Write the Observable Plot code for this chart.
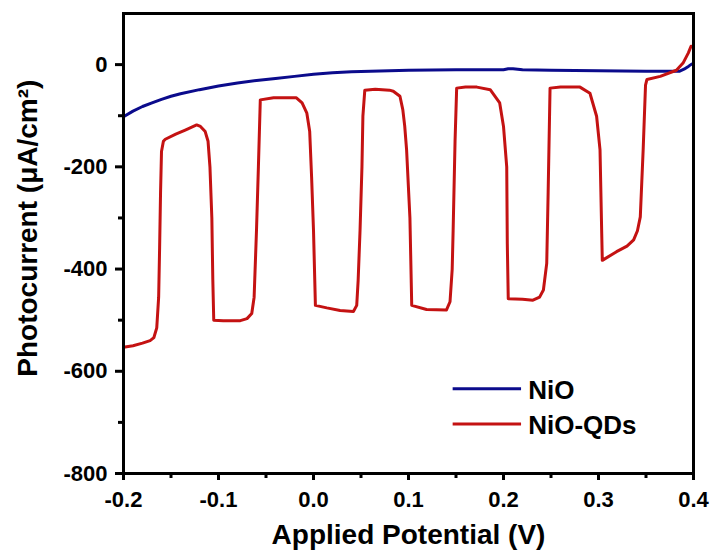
<!DOCTYPE html>
<html>
<head>
<meta charset="utf-8">
<script src="https://cdn.jsdelivr.net/npm/d3@7"></script>
<script src="https://cdn.jsdelivr.net/npm/@observablehq/plot@0.6"></script>
<style>
  html, body { margin: 0; padding: 0; background: white; }
</style>
</head>
<body>
<div id="chart"></div>
<script>
// ---- Data ----
const seriesNames = ["NiO", "NiO-QDs"];

// NiO (dark) – applied potential (V) and photocurrent (µA/cm²)
const nioV = [-0.200, -0.190, -0.180, -0.170, -0.160, -0.150, -0.140, -0.120, -0.100, -0.080, -0.060, -0.040, -0.020, 0.000, 0.020, 0.040, 0.060, 0.080, 0.100, 0.150, 0.200, 0.205, 0.210, 0.220, 0.250, 0.300, 0.350, 0.385, 0.390, 0.395, 0.398];
const nioJ = [-102, -91, -82, -75, -68, -62, -57, -49, -42, -36, -31, -27, -23, -19, -16, -14, -13, -12, -11, -10, -10, -8, -8, -10, -11, -12, -13, -13, -9, -3, 1];

// NiO-QDs (chopped light)
const qdsV = [-0.200, -0.190, -0.180, -0.172, -0.168, -0.165, -0.163, -0.162, -0.161, -0.160, -0.158, -0.156, -0.145, -0.135, -0.123, -0.119, -0.114, -0.111, -0.109, -0.107, -0.106, -0.105, -0.095, -0.077, -0.070, -0.065, -0.0625, -0.060, -0.058, -0.056, -0.042, -0.018, -0.012, -0.007, -0.004, -0.002, 0.000, 0.002, 0.014, 0.028, 0.042, 0.0455, 0.047, 0.049, 0.051, 0.052, 0.054, 0.065, 0.080, 0.084, 0.091, 0.094, 0.096, 0.098, 0.1015, 0.1034, 0.119, 0.140, 0.1437, 0.146, 0.147, 0.149, 0.1507, 0.160, 0.172, 0.186, 0.196, 0.200, 0.2034, 0.204, 0.205, 0.220, 0.231, 0.238, 0.242, 0.2455, 0.247, 0.249, 0.260, 0.2805, 0.291, 0.298, 0.3016, 0.3034, 0.304, 0.319, 0.330, 0.337, 0.341, 0.344, 0.347, 0.3495, 0.351, 0.365, 0.382, 0.389, 0.3946, 0.3974];
const qdsJ = [-553, -550, -545, -540, -534, -515, -455, -360, -250, -170, -150, -146, -136, -128, -118, -121, -131, -150, -200, -300, -420, -500, -501, -501, -497, -487, -455, -324, -200, -69, -65, -65, -75, -95, -131, -220, -324, -471, -476, -481, -483, -471, -422, -324, -200, -101, -50, -48, -50, -52, -62, -88, -120, -167, -300, -471, -479, -480, -464, -400, -323, -150, -46, -44, -44, -49, -75, -121, -200, -350, -458, -459, -461, -455, -441, -389, -250, -46, -44, -44, -56, -101, -167, -331, -383, -366, -355, -343, -325, -298, -167, -40, -29, -23, -11, 3, 23, 36];

const xTicks = [-0.2, -0.1, 0.0, 0.1, 0.2, 0.3, 0.4];
const xMinorTicks = [-0.15, -0.05, 0.05, 0.15, 0.25, 0.35];
const yTicks = [0, -200, -400, -600, -800];
const yMinorTicks = [-100, -300, -500, -700];
const xTitle = "Applied Potential (V)";
const yTitle = "Photocurrent (μA/cm²)";

// ---- Styling / layout ----
const colors = {"NiO": "#0b0b8c", "NiO-QDs": "#c41212"};
const font = "'Liberation Sans', Arial, Helvetica, sans-serif";

const nioData = nioV.map((v, i) => ({v, j: nioJ[i], s: "NiO"}));
const qdsData = qdsV.map((v, i) => ({v, j: qdsJ[i], s: "NiO-QDs"}));

// legend placement (in data units of the axes)
const legendX1 = 0.147, legendX2 = 0.219, legendTextX = 0.226;
const legendY = [-634, -703];
const legendData = seriesNames.map((s, i) => ({s, y: legendY[i]}));

const chart = Plot.plot({
  width: 714,
  height: 550,
  marginLeft: 123,
  marginRight: 21,
  marginTop: 13,
  marginBottom: 77,
  style: {fontFamily: font, fontSize: "22px", fontWeight: "bold", color: "black", background: "white"},
  x: {domain: [-0.2, 0.4]},
  y: {domain: [-800, 100]},
  marks: [
    Plot.line(nioData, {x: "v", y: "j", stroke: colors["NiO"], strokeWidth: 3}),
    Plot.line(qdsData, {x: "v", y: "j", stroke: colors["NiO-QDs"], strokeWidth: 3}),
    Plot.frame({stroke: "black", strokeWidth: 3}),
    Plot.axisX({ticks: xTicks, tickSize: 7, tickPadding: 11, strokeWidth: 3, label: null, tickFormat: d => d.toFixed(1), fontSize: 22}),
    Plot.axisX({ticks: xMinorTicks, tickSize: 5, strokeWidth: 3, label: null, text: null}),
    Plot.axisY({ticks: yTicks, tickSize: 8, tickPadding: 8, strokeWidth: 3, label: null, tickFormat: d => String(d), fontSize: 22}),
    Plot.axisY({ticks: yMinorTicks, tickSize: 5, strokeWidth: 3, label: null, text: null}),
    Plot.text([xTitle], {frameAnchor: "bottom", dy: 70, lineAnchor: "bottom", fontSize: 28, fontWeight: "bold", fill: "black"}),
    Plot.text([{t: yTitle, y: -320}], {text: "t", y: "y", frameAnchor: "left", dx: -95, rotate: -90, textAnchor: "middle", lineAnchor: "middle", fontSize: 28, fontWeight: "bold", fill: "black"}),
    Plot.ruleY(legendData, {y: "y", x1: legendX1, x2: legendX2, stroke: d => colors[d.s], strokeWidth: 3}),
    Plot.text(legendData, {x: legendTextX, y: "y", text: "s", textAnchor: "start", lineAnchor: "middle", dy: 2, fontSize: 26, fontWeight: "bold", fill: "black"})
  ]
});
document.getElementById("chart").appendChild(chart);
</script>
</body>
</html>
